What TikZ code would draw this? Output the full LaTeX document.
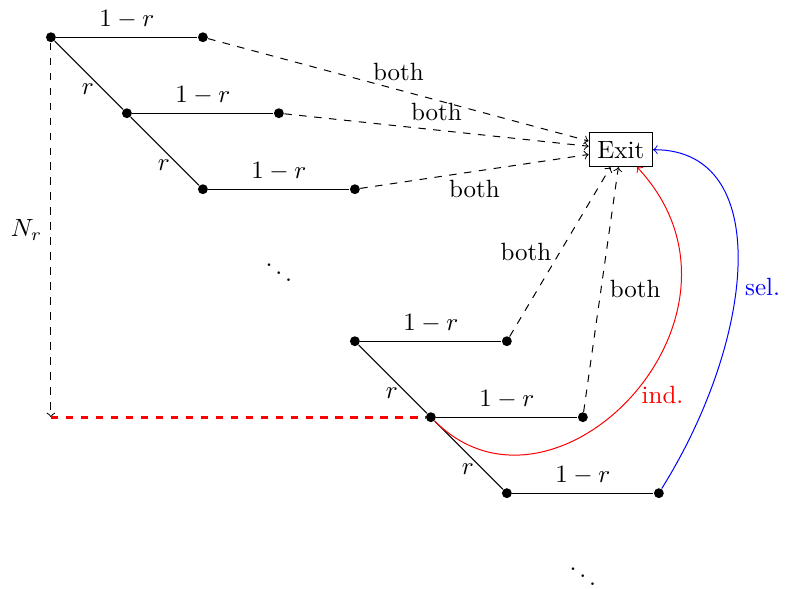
\documentclass[tikz,border=0pt]{standalone}
\usepackage{amsmath}
\usetikzlibrary{positioning}

\begin{document}
\begin{tikzpicture}[x=1.07cm,y=1.07cm,
  dot/.style={circle,fill,inner sep=1.4pt},
  toexit/.style={->,dashed}]
  \useasboundingbox (-0.67,-7.26) rectangle (9.66,0.49);

  \node[draw] (Exit) at (7.5,-1.48) {Exit};

  \node[dot] (a0) at (0,0) {};
  \node[dot] (a1) at (2,0) {};
  \node[dot] (b0) at (1,-1) {};
  \node[dot] (b1) at (3,-1) {};
  \node[dot] (c0) at (2,-2) {};
  \node[dot] (c1) at (4,-2) {};
  \node (dotsa) at (3,-3) {$\ddots$};
  \node[dot] (d0) at (4,-4) {};
  \node[dot] (d1) at (6,-4) {};
  \node[dot] (e0) at (5,-5) {};
  \node[dot] (e1) at (7,-5) {};
  \node[dot] (f0) at (6,-6) {};
  \node[dot] (f1) at (8,-6) {};
  \node (dotsb) at (7,-7) {$\ddots$};
  \coordinate (N) at (0,-5);

  \draw (a0) -- node[above] {$1-r$} (a1);
  \draw (b0) -- node[above] {$1-r$} (b1);
  \draw (c0) -- node[above] {$1-r$} (c1);
  \draw (d0) -- node[above] {$1-r$} (d1);
  \draw (e0) -- node[above] {$1-r$} (e1);
  \draw (f0) -- node[above] {$1-r$} (f1);
  \draw (a0) -- node[left,pos=0.7] {$r$} (b0);
  \draw (b0) -- node[left,pos=0.7] {$r$} (c0);
  \draw (d0) -- node[left,pos=0.7] {$r$} (e0);
  \draw (e0) -- node[left,pos=0.7] {$r$} (f0);

  \draw[toexit] (a1) -- node[midway,above] {both} (Exit);
  \draw[toexit] (b1) -- node[midway,above] {both} (Exit);
  \draw[toexit] (c1) -- node[midway,below] {both} (Exit);
  \draw[toexit] (d1) -- node[midway,left] {both} (Exit);
  \draw[toexit] (e1) -- node[midway,right] {both} (Exit);

  \draw[->,dashed] (a0) -- node[midway,left] {$N_r$} (N);
  \draw[red,very thick,dashed] (N) -- (e0);

  \draw[->,red] (e0) to[out=-45,in=-47,out distance=2.4cm,in distance=2.85cm]
    node[pos=0.5,right] {ind.} (Exit);
  \draw[->,blue] (f1) to[out=58,in=0,out distance=2.5cm,in distance=1.7cm]
    node[pos=0.44,right] {sel.} (Exit);
\end{tikzpicture}
\end{document}
